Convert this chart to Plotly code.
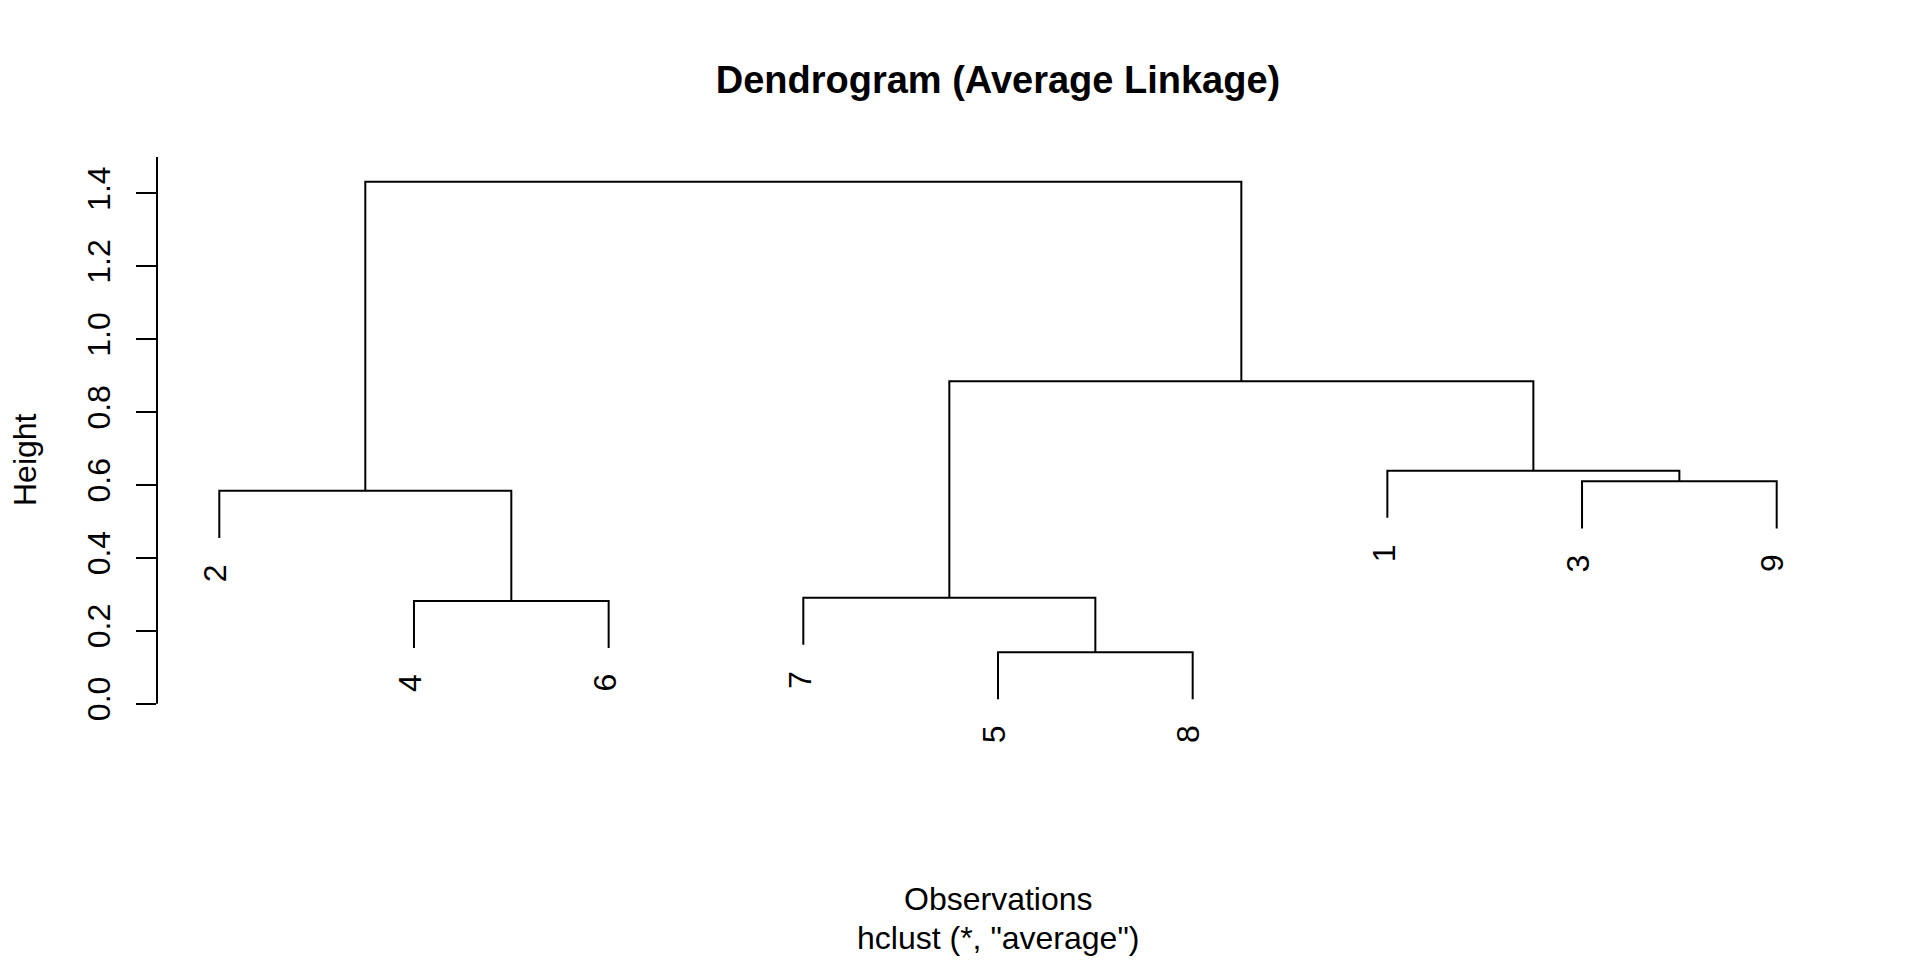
import plotly.graph_objects as go

# ---- data ----
leaf_labels = ["2", "4", "6", "7", "5", "8", "1", "3", "9"]   # left-to-right order
# R-style merge table: negative = observation, positive = earlier merge (1-based)
merge_a = [-5, -4, -7, -2, -3, -1, 3, 4]
merge_b = [-8, -6, 1, 2, -9, 5, 6, 7]
merge_height = [0.141, 0.282, 0.291, 0.584, 0.610, 0.639, 0.885, 1.432]
hang_fraction = 0.1
y_tick_vals = [0.0, 0.2, 0.4, 0.6, 0.8, 1.0, 1.2, 1.4]
y_tick_text = ["0.0", "0.2", "0.4", "0.6", "0.8", "1.0", "1.2", "1.4"]

FONT = "Liberation Sans, Arial, Helvetica, sans-serif"
hang = hang_fraction * (max(merge_height) - min(merge_height))

# leaf positions
leaf_pos = {int(lab): i + 1 for i, lab in enumerate(leaf_labels)}
node_x = {}
xs, ys = [], []
leaf_end = {}
for k, (a, b, h) in enumerate(zip(merge_a, merge_b, merge_height), start=1):
    pts = []
    for c in (a, b):
        if c < 0:
            cx = leaf_pos[-c]
            cy = h - hang
            leaf_end[-c] = cy
        else:
            cx = node_x[c]
            cy = merge_height[c - 1]
        pts.append((cx, cy))
    (xa, ya), (xb, yb) = pts
    node_x[k] = (xa + xb) / 2
    xs += [xa, xa, xb, xb, None]
    ys += [ya, h, h, yb, None]

fig = go.Figure()
fig.add_trace(go.Scatter(x=xs, y=ys, mode="lines",
                         line=dict(color="black", width=2, shape="linear"),
                         hoverinfo="skip", showlegend=False))

annotations = []
for lab in leaf_labels:
    o = int(lab)
    annotations.append(dict(x=leaf_pos[o], y=leaf_end[o], xref="x", yref="y",
                            text=lab, showarrow=False, textangle=-90,
                            xanchor="center", yanchor="top", yshift=-24, xshift=-4,
                            font=dict(family=FONT, size=32, color="black")))

# axis titles
annotations.append(dict(x=0.5, y=0, xref="paper", yref="paper", text="Observations",
                        showarrow=False, xanchor="center", yanchor="middle", yshift=-136.5,
                        font=dict(family=FONT, size=32, color="black")))
annotations.append(dict(x=0.5, y=0, xref="paper", yref="paper", text='hclust (*, "average")',
                        showarrow=False, xanchor="center", yanchor="middle", yshift=-175.5,
                        font=dict(family=FONT, size=32, color="black")))
annotations.append(dict(x=0, y=0.5, xref="paper", yref="paper", text="Height",
                        showarrow=False, textangle=-90, xanchor="center", yanchor="middle",
                        xshift=-132.5,
                        font=dict(family=FONT, size=32, color="black")))

y_min, y_max = -0.16, 1.50
fig.update_layout(
    width=1920, height=960,
    margin=dict(l=157, r=81, t=157, b=197.5, pad=0),
    paper_bgcolor="white", plot_bgcolor="white",
    title=dict(text="<b>Dendrogram (Average Linkage)</b>", x=0.5, xref="paper",
               y=1 - 80 / 960, yref="container", xanchor="center", yanchor="middle",
               font=dict(family=FONT, size=38, color="black")),
    xaxis=dict(range=[0.68, len(leaf_labels) + 0.32], visible=False, fixedrange=True),
    yaxis=dict(range=[y_min, y_max], showgrid=False, zeroline=False, showline=False,
               ticks="outside", ticklen=20, tickwidth=2, tickcolor="black",
               tickvals=y_tick_vals, ticktext=y_tick_text, tickangle=-90,
               ticklabelstandoff=13,
               tickfont=dict(family=FONT, size=32, color="black"), fixedrange=True),
    shapes=[dict(type="line", xref="paper", yref="y", x0=0, x1=0, y0=0, y1=y_max,
                 line=dict(color="black", width=2))],
    annotations=annotations,
    showlegend=False,
)

fig.write_html("out.html", config={"displayModeBar": False, "staticPlot": True},
               post_script="document.body.style.margin='0';")
